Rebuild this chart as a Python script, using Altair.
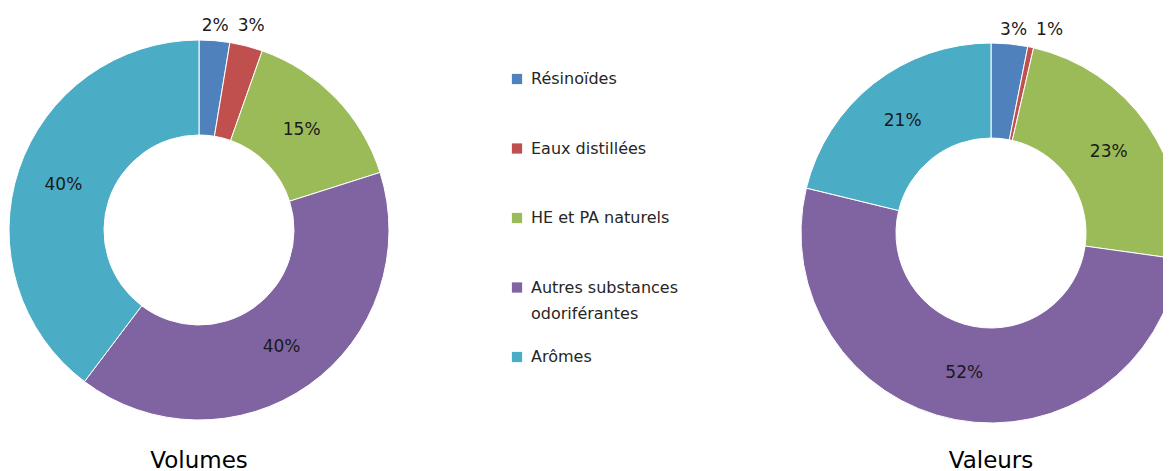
import altair as alt
import pandas as pd

categories = ["Résinoïdes", "Eaux distillées", "HE et PA naturels",
              "Autres substances odoriférantes", "Arômes"]
legend_labels = ["Résinoïdes", "Eaux distillées", "HE et PA naturels",
                 "Autres substances\nodoriférantes", "Arômes"]
colors = ["#4F81BD", "#C0504D", "#9BBB59", "#8064A2", "#4BACC6"]

volumes_pct = [2.6, 2.8, 14.7, 40.2, 39.7]
volumes_lbl = ["2%", "3%", "15%", "40%", "40%"]
valeurs_pct = [3.1, 0.5, 23.6, 51.6, 21.2]
valeurs_lbl = ["3%", "1%", "23%", "52%", "21%"]
titles = ["Volumes", "Valeurs"]

FONT = "DejaVu Sans"
theta_scale = alt.Scale(domain=[0, 100])
color_scale = alt.Scale(domain=categories, range=colors)


def donut(values, labels, cx, cy, title):
    df = pd.DataFrame({"cat": categories, "v": values, "lbl": labels,
                       "idx": list(range(len(categories))), "t": title})
    base = (alt.Chart(df)
            .transform_window(cum="sum(v)", sort=[{"field": "idx"}])
            .transform_calculate(start="datum.cum - datum.v",
                                 mid="datum.cum - datum.v / 2"))
    arcs = base.mark_arc(radius=190, radius2=95, stroke="white",
                         strokeWidth=1).encode(
        x=alt.value(cx), y=alt.value(cy),
        theta=alt.Theta("start:Q", scale=theta_scale),
        theta2="cum:Q",
        color=alt.Color("cat:N", scale=color_scale, legend=None),
    )
    big = base.transform_filter("datum.v >= 5").mark_text(
        radius=143, font=FONT, fontSize=17, color="#1a1a1a").encode(
        x=alt.value(cx), y=alt.value(cy),
        theta=alt.Theta("mid:Q", scale=theta_scale),
        text="lbl:N",
    )
    small0 = base.transform_filter("datum.idx == 0").mark_text(
        radius=207, font=FONT, fontSize=17, color="#1a1a1a",
        align="right", dx=-4).encode(
        x=alt.value(cx), y=alt.value(cy),
        theta=alt.Theta("cum:Q", scale=theta_scale),
        text="lbl:N",
    )
    small1 = base.transform_filter("datum.idx == 1").mark_text(
        radius=207, font=FONT, fontSize=17, color="#1a1a1a",
        align="left", dx=5).encode(
        x=alt.value(cx), y=alt.value(cy),
        theta=alt.Theta("start:Q", scale=theta_scale),
        text="lbl:N",
    )
    ttl = alt.Chart(pd.DataFrame({"t": [title]})).mark_text(
        font=FONT, fontSize=23, color="#000000", align="center",
        baseline="alphabetic").encode(
        x=alt.value(cx), y=alt.value(460), text="t:N")
    return [arcs, big, small0, small1, ttl]


leg_df = pd.DataFrame({"cat": categories, "lab": legend_labels})
leg_y = alt.Y("cat:N", sort=categories, axis=None,
              scale=alt.Scale(type="point", range=[71, 349], padding=0))
leg_sq = alt.Chart(leg_df).mark_square(size=105, opacity=1).encode(
    x=alt.value(509), y=leg_y,
    color=alt.Color("cat:N", scale=color_scale, legend=None))
leg_tx = alt.Chart(leg_df).mark_text(
    align="left", baseline="line-top", lineHeight=26, lineBreak="\n",
    dx=14, dy=-13, font=FONT, fontSize=16, color="#262626").encode(
    x=alt.value(509), y=leg_y, text="lab:N")

layers = donut(volumes_pct, volumes_lbl, 191, 222, titles[0]) + \
    donut(valeurs_pct, valeurs_lbl, 983, 225, titles[1]) + [leg_sq, leg_tx]

chart = alt.layer(*layers).properties(
    width=1155, height=463, padding=0,
    autosize=alt.AutoSizeParams(type="none"),
).configure_view(stroke=None)

chart.save("out.html", embed_options={"renderer": "svg", "actions": False})
